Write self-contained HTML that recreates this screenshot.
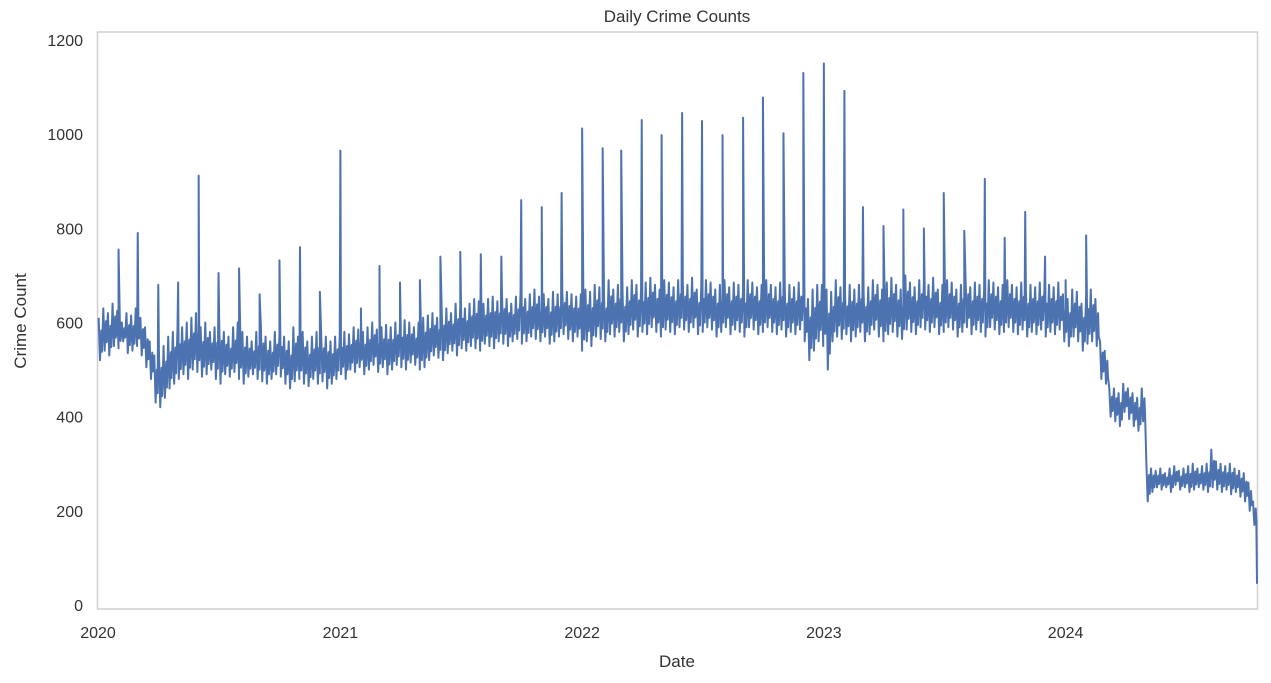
<!DOCTYPE html>
<html><head><meta charset="utf-8"><style>
body{margin:0;background:#fff;}
svg{display:block;font-family:"Liberation Sans",sans-serif;}
</style></head><body>
<svg id="chart" width="1271" height="683">
<text x="677" y="22" text-anchor="middle" font-size="17" fill="#333">Daily Crime Counts</text>
<text x="677" y="667" text-anchor="middle" font-size="17" fill="#333">Date</text>
<text transform="translate(26,321) rotate(-90)" text-anchor="middle" font-size="17" fill="#333">Crime Count</text>
<g id="yticks"></g>
<g id="xticks"></g>
<rect x="97.5" y="32" width="1160" height="577" fill="none" stroke="#d0d0d0" stroke-width="1.5"/>
<g id="series"></g>
</svg>
<script>
const yTicks=[0,200,400,600,800,1000,1200];
const xTickYears=[2020,2021,2022,2023,2024];
const weeklyLows=[520,540,530,550,545,560,535,540,550,530,505,480,430,420,440,460,470,480,490,480,500,495,485,490,500,480,470,490,485,495,480,470,485,490,480,475,470,480,490,485,470,460,475,480,470,465,480,470,475,460,470,480,
490,480,500,495,505,490,500,510,495,505,490,500,510,505,500,515,510,500,505,520,530,525,520,535,540,530,545,540,550,545,540,555,550,545,560,555,550,560,565,555,560,570,565,560,570,555,560,570,575,565,560,570,
540,560,550,570,565,560,575,570,580,560,575,585,570,580,575,590,580,570,585,580,575,590,585,580,590,575,580,590,585,570,580,590,575,585,580,570,590,585,575,580,590,580,575,585,570,580,575,585,560,520,540,560,
550,500,560,570,565,575,560,570,580,560,575,585,570,560,575,580,570,565,585,580,575,590,585,580,590,575,580,590,585,570,580,590,575,585,580,570,590,585,575,580,590,580,575,585,570,580,575,585,570,580,575,585,
560,550,570,560,540,555,560,550,480,470,400,390,380,410,395,380,370,390,220,240,250,245,250,240,255,245,250,240,245,250,245,240,250,245,240,245,235,240,230,220,200,170];
const weeklyHighs=[610,630,620,640,625,600,620,615,630,610,590,560,530,540,550,570,580,585,590,600,610,620,590,600,580,590,600,580,570,590,600,580,570,560,580,590,570,560,580,575,570,560,590,570,580,560,570,580,575,570,560,570,
570,580,575,590,585,580,590,600,585,590,595,590,600,595,605,600,590,600,610,615,620,610,625,630,620,640,635,630,640,650,645,640,650,655,645,660,650,640,655,665,650,660,670,655,660,650,665,660,670,665,660,655,
660,670,665,680,675,660,690,670,680,665,675,690,680,670,685,695,680,670,690,685,675,690,685,680,695,670,680,690,685,670,680,690,675,685,680,670,690,685,675,680,690,680,675,685,670,680,675,685,660,650,670,680,
680,670,665,690,675,660,680,670,680,665,675,690,680,670,685,695,680,670,700,685,675,690,685,680,695,670,680,690,685,670,680,690,675,685,680,670,690,685,675,680,690,680,675,685,670,680,675,685,670,680,675,685,
660,650,670,665,640,660,670,650,560,540,460,460,450,470,460,450,440,460,300,290,285,290,280,290,295,285,290,295,300,290,295,300,330,305,300,295,300,290,285,280,260,220];
const spikeMonths=[1,2,3,4,5,6,7,8,9,10,11,12,13,14,15,16,17,18,19,20,21,22,23,24,25,26,27,28,29,30,31,32,33,34,35,36,37,38,39,40,41,42,43,44,45,46,47,48,49];
const spikeValues=[755,790,680,685,912,705,715,660,732,760,665,965,630,720,685,690,740,750,745,740,860,845,875,1012,970,965,1030,998,1045,1028,998,1035,1078,1002,1130,1150,1092,845,805,840,800,875,795,905,780,835,740,690,785];
const endDay=1750, endValue=45;

const NS="http://www.w3.org/2000/svg";
const X0=98, PXPERYEAR=241.9, Y0=605, PXPERUNIT=(605-40)/1200;
function xScale(day){return X0+day/365.25*PXPERYEAR;}
function yScale(v){return Y0-v*PXPERUNIT;}
function dayOfMonth(m){return (Date.UTC(2020,m,1)-Date.UTC(2020,0,1))/86400000;}

const yg=document.getElementById('yticks');
yTicks.forEach(v=>{
  const t=document.createElementNS(NS,'text');
  
  
  t.setAttribute('x',83);t.setAttribute('y',yScale(v)+6);
  t.setAttribute('text-anchor','end');t.setAttribute('font-size','16');t.setAttribute('fill','#333');
  t.textContent=v;yg.appendChild(t);
});
const xg=document.getElementById('xticks');
xTickYears.forEach(yr=>{
  const d=(Date.UTC(yr,0,1)-Date.UTC(2020,0,1))/86400000;
  const t=document.createElementNS(NS,'text');
  
  
  t.setAttribute('x',xScale(d));t.setAttribute('y',638);
  t.setAttribute('text-anchor','middle');t.setAttribute('font-size','16');t.setAttribute('fill','#333');
  t.textContent=yr;xg.appendChild(t);
});

let pts=[];
weeklyLows.forEach((lo,w)=>{
  const hi=weeklyHighs[w];
  pts.push([7*w+1,hi]);
  pts.push([7*w+3,lo]);
  pts.push([7*w+5,hi-(hi-lo)*0.3]);
  pts.push([7*w+6,lo+(hi-lo)*0.2]);
});
spikeMonths.forEach((m,i)=>{pts.push([dayOfMonth(m)+0.01,spikeValues[i]]);});
pts=pts.filter(p=>p[0]<endDay);
pts.push([endDay,endValue]);
pts.sort((a,b)=>a[0]-b[0]);
const path=document.createElementNS(NS,'path');


path.setAttribute('d',pts.map((p,i)=>(i?'L':'M')+xScale(p[0]).toFixed(2)+','+yScale(p[1]).toFixed(2)).join(''));
path.setAttribute('fill','none');path.setAttribute('stroke','#4c72b0');path.setAttribute('stroke-width','2');
path.setAttribute('stroke-linejoin','round');
document.getElementById('series').appendChild(path);
</script>
</body></html>
